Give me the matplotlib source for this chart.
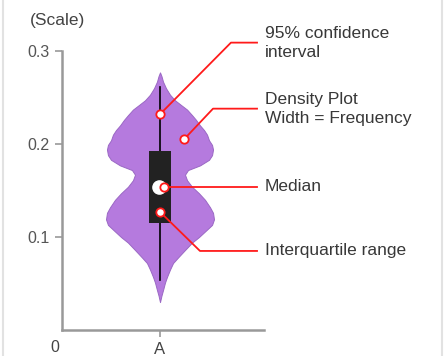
import matplotlib
matplotlib.use("Agg")
import matplotlib.pyplot as plt
from matplotlib.lines import Line2D
import numpy as np

plt.rcParams['font.family'] = ['Liberation Sans', 'DejaVu Sans']

# density outline of the violin (value on the scale, half width)
dens_value = [0.277, 0.273, 0.267, 0.260, 0.253, 0.247, 0.242, 0.237, 0.231, 0.226,
              0.220, 0.215, 0.210, 0.204, 0.199, 0.194, 0.188, 0.183, 0.177, 0.172,
              0.167, 0.161, 0.154, 0.147, 0.140, 0.132, 0.126, 0.119, 0.113, 0.108,
              0.100, 0.094, 0.086, 0.078, 0.072, 0.065, 0.057, 0.051, 0.043, 0.037,
              0.030]
dens_width = [0.000, 0.015, 0.031, 0.061, 0.102, 0.153, 0.214, 0.276, 0.327, 0.367,
              0.408, 0.449, 0.480, 0.500, 0.531, 0.541, 0.531, 0.500, 0.408, 0.286,
              0.255, 0.276, 0.327, 0.398, 0.459, 0.510, 0.541, 0.551, 0.531, 0.480,
              0.398, 0.327, 0.255, 0.184, 0.133, 0.102, 0.071, 0.051, 0.031, 0.015,
              0.000]

whisker_low = 0.054
whisker_high = 0.261
q1 = 0.115
q3 = 0.193
median = 0.154

categories = ['A']
yticks = [0.1, 0.2, 0.3]

labels = ['95% confidence\ninterval', 'Density Plot\nWidth = Frequency',
          'Median', 'Interquartile range']
# (point on the violin, elbow of the leader, y of the label)
pt_x = [0.0, 0.245, 0.041, 0.0]
pt_y = [0.232, 0.205, 0.154, 0.127]
elbow_x = [0.724, 0.541, 0.541, 0.408]
label_y = [0.309, 0.238, 0.154, 0.085]

fig = plt.figure(figsize=(4.46, 3.56), dpi=100)
ax = fig.add_axes([62 / 446, 26 / 356, 202 / 446, 279 / 356])

v = np.array(dens_value)
w = np.array(dens_width)
ax.fill_betweenx(v, -w, w, facecolor='#b57ade', edgecolor='#9a68c4', lw=0.7, zorder=2)

ax.plot([0, 0], [whisker_low, whisker_high], color='black', lw=1.2, zorder=3)
ax.bar(0, q3 - q1, bottom=q1, width=0.22, color='#222222', zorder=4)
ax.plot(-0.015, median, 'o', ms=9.5, mfc='white', mec='white', zorder=5)

red = '#ff1a1a'
for i in range(len(labels)):
    ax.plot([pt_x[i], elbow_x[i], 0.99], [pt_y[i], label_y[i], label_y[i]],
            color=red, lw=1.3, clip_on=False, zorder=6)
    ax.plot(pt_x[i], pt_y[i], 'o', ms=6, mfc='white', mec=red, mew=1.3,
            clip_on=False, zorder=7)
    ax.text(1.07, label_y[i], labels[i], fontsize=12.5, color='#383838',
            va='center', ha='left', linespacing=1.35, clip_on=False)

ax.set_xlim(-1, 1.0612)
ax.set_ylim(0, 0.3)
ax.set_xticks([0])
ax.set_xticklabels(categories)
ax.set_yticks(yticks)
ax.set_yticklabels(['0.1', '0.2', '0.3'])
for s in ['top', 'right']:
    ax.spines[s].set_visible(False)
for s in ['left', 'bottom']:
    ax.spines[s].set_color('#999999')
    ax.spines[s].set_linewidth(1.8)
ax.tick_params(colors='#999999', width=1.2, length=5, labelsize=11.5,
               labelcolor='#555555', pad=4)
ax.tick_params(axis='x', labelsize=12, labelcolor='#444444')

ax.text(-1.07, -0.019, '0', transform=ax.transData, fontsize=11.5, color='#444444',
        ha='center', va='center', clip_on=False)
fig.text(30 / 446, 1 - 20 / 356, '(Scale)', fontsize=12.5, color='#444444',
         ha='left', va='center')

fig.add_artist(Line2D([3 / 446, 3 / 446], [0, 1], color='#e2e2e2', lw=1.5))
fig.add_artist(Line2D([442 / 446, 442 / 446], [0, 1], color='#e2e2e2', lw=1.5))

fig.savefig('out.png', dpi=100)
